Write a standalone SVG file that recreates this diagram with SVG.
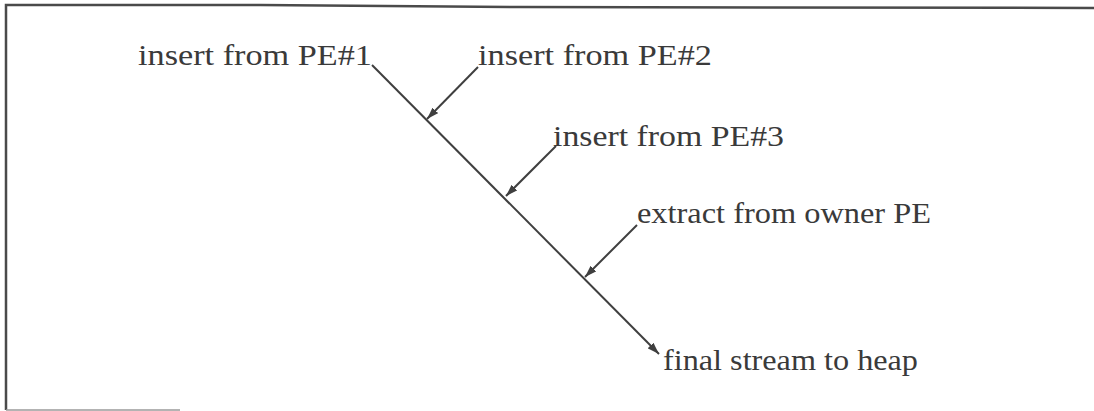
<svg xmlns="http://www.w3.org/2000/svg" width="1094" height="411" viewBox="0 0 1094 411">
  <style>
    .frame { fill: none; stroke: #4a4a4a; stroke-width: 2.5; }
    .frame-light { fill: none; stroke: #9a9a9a; stroke-width: 1.5; }
    .label { font-family: "Liberation Serif", "DejaVu Serif", serif; font-size: 30px; fill: #3a3a3a; }
    .flow { fill: none; stroke: #3f3f3f; stroke-width: 2; }
  </style>
  <defs>
    <marker id="head" viewBox="0 0 12 8" refX="12" refY="4" markerWidth="12" markerHeight="8" markerUnits="userSpaceOnUse" orient="auto">
      <path d="M0,0 L12,4 L0,8 Z" fill="#3f3f3f"/>
    </marker>
  </defs>

  <rect width="1094" height="411" fill="#ffffff"/>

  <!-- border -->
  <g id="border">
    <polyline class="frame" points="6,410 6,5 260,5 520,7 1094,8"/>
    <line class="frame-light" x1="6" y1="410" x2="180" y2="410"/>
  </g>

  <!-- connectors -->
  <g id="connectors">
    <line class="flow" x1="372" y1="65" x2="659" y2="354" marker-end="url(#head)"/>
    <line class="flow" x1="478" y1="67" x2="427" y2="119" marker-end="url(#head)"/>
    <line class="flow" x1="556" y1="146" x2="506" y2="196" marker-end="url(#head)"/>
    <line class="flow" x1="637" y1="225" x2="585" y2="277" marker-end="url(#head)"/>
  </g>

  <g id="src1">
    <text class="label" x="138" y="65" textLength="234" lengthAdjust="spacingAndGlyphs">insert from PE#1</text>
  </g>
  <g id="src2">
    <text class="label" x="478" y="65" textLength="234" lengthAdjust="spacingAndGlyphs">insert from PE#2</text>
  </g>
  <g id="src3">
    <text class="label" x="553" y="146" textLength="231" lengthAdjust="spacingAndGlyphs">insert from PE#3</text>
  </g>
  <g id="owner">
    <text class="label" x="637" y="223" textLength="294" lengthAdjust="spacingAndGlyphs">extract from owner PE</text>
  </g>
  <g id="heap">
    <text class="label" x="663" y="370" textLength="255" lengthAdjust="spacingAndGlyphs">final stream to heap</text>
  </g>
</svg>
